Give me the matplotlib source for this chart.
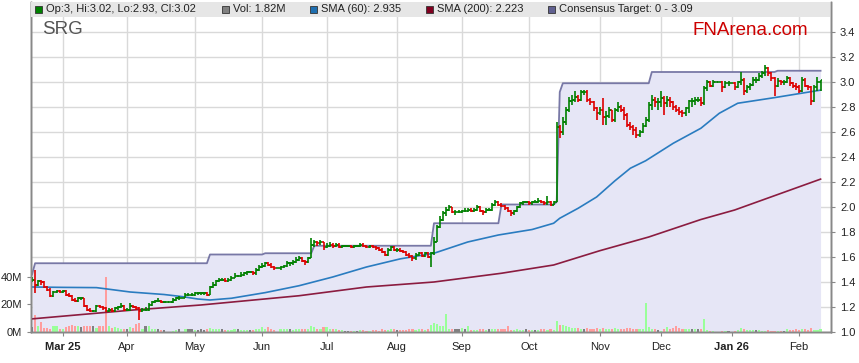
import numpy as np
import pandas as pd
import matplotlib
matplotlib.use("Agg")
import matplotlib.pyplot as plt
from matplotlib.patches import Rectangle

plt.rcParams["font.family"] = ["Liberation Sans", "DejaVu Sans"]

# daily bars, one per weekday starting 17 Feb 2025
closes = [
    1.42, 1.38, 1.41, 1.40, 1.36, 1.34, 1.29, 1.32, 1.33, 1.32,
    1.33, 1.30, 1.29, 1.26, 1.25, 1.27, 1.27, 1.21, 1.18, 1.17,
    1.17, 1.21, 1.20, 1.19, 1.17, 1.18, 1.17, 1.19, 1.20, 1.21,
    1.18, 1.18, 1.21, 1.20, 1.19, 1.17, 1.18, 1.18, 1.22, 1.24,
    1.25, 1.25, 1.24, 1.24, 1.24, 1.24, 1.26, 1.27, 1.27, 1.27,
    1.30, 1.30, 1.30, 1.31, 1.31, 1.31, 1.31, 1.30, 1.36, 1.38,
    1.41, 1.42, 1.42, 1.41, 1.42, 1.43, 1.45, 1.45, 1.46, 1.47,
    1.48, 1.48, 1.47, 1.50, 1.52, 1.53, 1.55, 1.54, 1.52, 1.51,
    1.51, 1.52, 1.53, 1.55, 1.55, 1.56, 1.58, 1.59, 1.57, 1.56,
    1.59, 1.70, 1.72, 1.71, 1.72, 1.68, 1.69, 1.70, 1.69, 1.70,
    1.68, 1.69, 1.69, 1.69, 1.68, 1.69, 1.69, 1.70, 1.69, 1.68,
    1.69, 1.68, 1.67, 1.66, 1.64, 1.62, 1.66, 1.68, 1.66, 1.66,
    1.65, 1.64, 1.62, 1.61, 1.59, 1.62, 1.63, 1.61, 1.63, 1.60,
    1.63, 1.72, 1.84, 1.90, 1.95, 1.98, 2.00, 1.96, 1.96, 1.96,
    1.97, 1.97, 1.98, 1.97, 1.98, 2.00, 1.97, 1.96, 1.98, 1.98,
    2.02, 2.04, 2.02, 2.01, 1.99, 1.97, 1.95, 1.97, 2.00, 2.03,
    2.04, 2.04, 2.03, 2.04, 2.04, 2.05, 2.04, 2.03, 2.04, 2.02,
    2.04, 2.64, 2.60, 2.68, 2.78, 2.85, 2.86, 2.88, 2.86, 2.92,
    2.92, 2.86, 2.84, 2.79, 2.75, 2.78, 2.72, 2.73, 2.78, 2.70,
    2.78, 2.80, 2.78, 2.74, 2.66, 2.64, 2.62, 2.58, 2.60, 2.65,
    2.70, 2.82, 2.86, 2.84, 2.84, 2.87, 2.83, 2.86, 2.84, 2.80,
    2.78, 2.76, 2.75, 2.79, 2.85, 2.85, 2.86, 2.86, 2.83, 2.95,
    3.00, 2.97, 3.00, 3.00, 3.00, 2.96, 2.99, 2.99, 2.99, 2.96,
    3.00, 3.02, 2.93, 2.96, 2.98, 3.02, 3.02, 3.05, 3.07, 3.11,
    3.07, 3.03, 2.97, 3.01, 3.00, 3.00, 3.03, 2.99, 2.97, 2.96,
    2.93, 3.02, 2.97, 2.96, 2.85, 2.96, 3.00, 3.02,
]
highs = [
    1.44, 1.50, 1.42, 1.42, 1.41, 1.37, 1.35, 1.33, 1.34, 1.34,
    1.34, 1.34, 1.31, 1.30, 1.27, 1.28, 1.28, 1.27, 1.22, 1.19,
    1.18, 1.22, 1.22, 1.21, 1.20, 1.19, 1.19, 1.20, 1.21, 1.23,
    1.22, 1.19, 1.23, 1.22, 1.21, 1.20, 1.19, 1.20, 1.23, 1.25,
    1.26, 1.27, 1.26, 1.25, 1.24, 1.24, 1.27, 1.28, 1.29, 1.27,
    1.31, 1.31, 1.31, 1.32, 1.32, 1.32, 1.32, 1.32, 1.37, 1.40,
    1.42, 1.43, 1.43, 1.43, 1.43, 1.45, 1.47, 1.46, 1.48, 1.48,
    1.49, 1.49, 1.49, 1.51, 1.54, 1.55, 1.56, 1.56, 1.55, 1.53,
    1.51, 1.53, 1.54, 1.57, 1.56, 1.58, 1.60, 1.61, 1.60, 1.58,
    1.60, 1.75, 1.74, 1.73, 1.74, 1.72, 1.71, 1.72, 1.71, 1.71,
    1.71, 1.70, 1.70, 1.70, 1.70, 1.70, 1.70, 1.71, 1.71, 1.70,
    1.70, 1.70, 1.69, 1.68, 1.67, 1.65, 1.67, 1.69, 1.69, 1.67,
    1.67, 1.66, 1.65, 1.63, 1.62, 1.63, 1.64, 1.64, 1.64, 1.64,
    1.64, 1.76, 1.86, 1.93, 1.97, 2.00, 2.02, 2.00, 1.98, 1.98,
    1.98, 1.99, 1.99, 1.99, 1.99, 2.02, 2.01, 1.98, 1.99, 1.99,
    2.03, 2.06, 2.05, 2.03, 2.02, 2.00, 1.98, 1.98, 2.01, 2.04,
    2.05, 2.05, 2.05, 2.05, 2.06, 2.07, 2.06, 2.05, 2.09, 2.05,
    2.05, 2.68, 2.66, 2.72, 2.80, 2.88, 2.90, 2.93, 2.90, 2.94,
    2.94, 2.94, 2.87, 2.85, 2.80, 2.80, 2.87, 2.77, 2.80, 2.78,
    2.79, 2.84, 2.82, 2.80, 2.75, 2.68, 2.66, 2.64, 2.62, 2.67,
    2.72, 2.84, 2.90, 2.88, 2.87, 2.93, 2.89, 2.89, 2.88, 2.85,
    2.82, 2.80, 2.78, 2.80, 2.86, 2.87, 2.88, 2.88, 2.88, 2.97,
    3.02, 3.01, 3.02, 3.00, 3.00, 3.01, 3.01, 3.01, 2.99, 3.00,
    3.01, 3.08, 3.03, 2.98, 2.99, 3.04, 3.04, 3.07, 3.09, 3.14,
    3.12, 3.08, 3.04, 3.03, 3.02, 3.02, 3.05, 3.04, 3.00, 2.99,
    2.98, 3.04, 3.03, 2.98, 2.97, 2.98, 3.04, 3.02,
]
lows = [
    1.40, 1.31, 1.37, 1.38, 1.35, 1.33, 1.28, 1.28, 1.31, 1.31,
    1.31, 1.29, 1.28, 1.25, 1.24, 1.24, 1.26, 1.20, 1.17, 1.16,
    1.16, 1.16, 1.19, 1.18, 1.16, 1.16, 1.16, 1.16, 1.18, 1.19,
    1.17, 1.17, 1.17, 1.19, 1.18, 1.10, 1.16, 1.17, 1.17, 1.21,
    1.23, 1.24, 1.23, 1.23, 1.24, 1.24, 1.23, 1.25, 1.26, 1.27,
    1.27, 1.29, 1.29, 1.29, 1.30, 1.30, 1.30, 1.29, 1.30, 1.35,
    1.37, 1.40, 1.41, 1.40, 1.40, 1.41, 1.43, 1.44, 1.44, 1.45,
    1.46, 1.47, 1.46, 1.46, 1.49, 1.51, 1.52, 1.53, 1.51, 1.50,
    1.51, 1.50, 1.51, 1.52, 1.53, 1.54, 1.55, 1.57, 1.56, 1.54,
    1.55, 1.59, 1.68, 1.69, 1.70, 1.66, 1.67, 1.68, 1.67, 1.68,
    1.67, 1.67, 1.68, 1.68, 1.67, 1.67, 1.68, 1.68, 1.68, 1.67,
    1.67, 1.67, 1.66, 1.65, 1.63, 1.61, 1.61, 1.65, 1.65, 1.64,
    1.64, 1.63, 1.61, 1.59, 1.57, 1.58, 1.61, 1.60, 1.60, 1.59,
    1.52, 1.62, 1.72, 1.83, 1.89, 1.93, 1.97, 1.95, 1.94, 1.95,
    1.95, 1.96, 1.96, 1.96, 1.96, 1.97, 1.96, 1.94, 1.95, 1.97,
    1.97, 2.01, 2.01, 2.00, 1.98, 1.96, 1.93, 1.94, 1.96, 1.99,
    2.02, 2.03, 2.02, 2.02, 2.03, 2.03, 2.03, 2.02, 2.02, 2.01,
    2.02, 2.04, 2.55, 2.58, 2.66, 2.76, 2.82, 2.84, 2.84, 2.85,
    2.90, 2.84, 2.82, 2.77, 2.70, 2.74, 2.66, 2.66, 2.71, 2.68,
    2.68, 2.76, 2.76, 2.70, 2.64, 2.62, 2.58, 2.55, 2.56, 2.59,
    2.64, 2.68, 2.78, 2.80, 2.78, 2.80, 2.74, 2.80, 2.80, 2.78,
    2.76, 2.74, 2.72, 2.73, 2.75, 2.80, 2.82, 2.84, 2.81, 2.82,
    2.93, 2.96, 2.96, 3.00, 3.00, 2.92, 2.95, 2.97, 2.99, 2.94,
    2.95, 2.98, 2.90, 2.91, 2.94, 2.97, 2.99, 3.01, 3.03, 3.05,
    3.05, 3.01, 2.89, 2.96, 2.98, 2.98, 2.99, 2.97, 2.95, 2.94,
    2.91, 2.92, 2.96, 2.94, 2.82, 2.84, 2.93, 2.93,
]
# volume in millions of shares
volumes = [
    3.5, 12.0, 4.3, 7.5, 2.8, 2.8, 2.0, 4.5, 4.5, 2.5,
    2.5, 3.5, 4.0, 5.0, 4.0, 4.5, 3.5, 4.5, 4.0, 4.0,
    4.5, 3.0, 4.0, 4.0, 40.0, 4.0, 3.0, 3.5, 3.0, 2.5,
    2.5, 2.5, 3.5, 3.0, 5.5, 6.7, 2.0, 4.5, 4.5, 2.0,
    2.0, 2.5, 1.5, 1.5, 0.0, 0.0, 1.0, 1.5, 2.0, 0.0,
    2.5, 2.0, 2.0, 1.5, 1.5, 2.0, 1.5, 2.0, 3.0, 2.5,
    2.0, 2.0, 2.0, 1.5, 1.5, 1.5, 2.0, 2.0, 1.5, 1.5,
    1.5, 1.5, 1.5, 2.0, 2.5, 3.5, 2.5, 3.5, 2.5, 1.5,
    0.0, 2.5, 2.0, 2.0, 2.5, 1.5, 2.0, 2.0, 2.5, 2.0,
    2.0, 4.5, 3.5, 2.5, 2.0, 3.5, 3.5, 2.5, 2.0, 2.0,
    1.5, 1.5, 1.0, 1.0, 1.0, 1.0, 1.0, 1.5, 1.5, 1.0,
    1.0, 1.5, 1.5, 1.0, 2.0, 1.5, 1.5, 2.0, 2.0, 1.5,
    1.5, 1.5, 1.5, 2.0, 2.0, 1.5, 2.0, 2.0, 1.5, 2.0,
    5.0, 6.5, 5.5, 4.0, 4.5, 13.0, 2.5, 2.0, 2.0, 2.5,
    3.0, 2.0, 4.5, 1.5, 1.5, 1.5, 2.0, 2.0, 1.5, 2.0,
    2.0, 2.0, 2.0, 2.0, 2.0, 4.0, 1.5, 1.5, 2.0, 1.5,
    1.5, 2.5, 1.5, 1.5, 1.5, 1.5, 2.0, 2.0, 1.5, 2.0,
    1.5, 8.0, 5.0, 5.0, 4.0, 3.5, 3.0, 3.0, 3.0, 2.5,
    2.5, 3.0, 2.5, 2.0, 3.0, 2.0, 3.0, 2.5, 2.5, 2.0,
    3.0, 2.5, 2.5, 2.5, 3.0, 3.0, 2.0, 2.5, 2.0, 2.0,
    21.0, 3.5, 2.0, 2.0, 1.5, 1.0, 2.5, 3.5, 2.0, 3.0,
    4.5, 3.0, 2.5, 2.5, 2.0, 2.5, 2.5, 2.5, 2.0, 9.5,
    1.5, 1.0, 1.0, 0.0, 0.0, 1.0, 1.0, 1.0, 0.0, 1.0,
    1.5, 3.0, 2.0, 1.5, 1.5, 1.5, 1.5, 1.5, 1.0, 1.0,
    1.5, 1.0, 1.0, 1.0, 1.0, 1.0, 2.5, 1.5, 1.5, 2.5,
    1.5, 2.0, 2.0, 1.5, 3.0, 1.8, 1.8, 1.82,
]

# moving averages and consensus target, read at the turning points
sma60_idx = [0, 10, 21, 27, 32, 43, 49, 54, 58, 65, 76, 87, 98, 109, 120, 131,
             142, 152, 163, 170, 172, 178, 184, 190, 195, 200, 209, 218, 224,
             230, 242, 252, 257]
sma60_val = [1.36, 1.357, 1.355, 1.336, 1.32, 1.30, 1.283, 1.264, 1.256, 1.27,
             1.315, 1.37, 1.44, 1.52, 1.585, 1.63, 1.72, 1.776, 1.82, 1.87,
             1.91, 1.99, 2.08, 2.21, 2.31, 2.37, 2.51, 2.63, 2.75, 2.83, 2.875,
             2.915, 2.935]
sma200_idx = [0, 33, 55, 87, 109, 131, 153, 170, 185, 201, 218, 229, 257]
sma200_val = [1.105, 1.176, 1.216, 1.29, 1.36, 1.40, 1.47, 1.536, 1.65, 1.76,
              1.90, 1.976, 2.223]
target_idx = [0, 1, 57, 58, 75, 76, 91, 92, 130, 131, 152, 153, 170, 171, 172,
              173, 201, 202, 242, 243, 257]
target_val = [1.46, 1.55, 1.55, 1.62, 1.62, 1.63, 1.63, 1.69, 1.69, 1.87, 1.87,
              2.02, 2.02, 2.04, 2.92, 2.99, 2.99, 3.08, 3.08, 3.09, 3.09]

month_labels = ["Mar 25", "Apr", "May", "Jun", "Jul", "Aug", "Sep", "Oct",
                "Nov", "Dec", "Jan 26", "Feb"]
price_ticks = [1.0, 1.2, 1.4, 1.6, 1.8, 2.0, 2.2, 2.4, 2.6, 2.8, 3.0, 3.2, 3.4]
vol_ticks = [0, 20, 40]

dates = pd.bdate_range("2025-02-17", periods=len(closes))
x = np.arange(len(closes))
closes = np.array(closes)
opens = np.r_[closes[0], closes[:-1]]
month_pos = [i for i in range(1, len(dates)) if dates[i].month != dates[i - 1].month]

up = closes > opens
down = closes < opens
bar_col = np.where(down, "#dd0000", "#008000")
vol_col = np.where(up, "#99ff99", np.where(down, "#ff9d9d", "#808080"))

W, H = 859, 363
fig = plt.figure(figsize=(W / 100, H / 100), dpi=100)
ax = fig.add_axes([31 / W, 31 / H, 800 / W, 330 / H])
vax = ax.twinx()
pax = ax.twinx()
for a in (ax, pax):
    a.set_xlim(-0.33, 260.4)
    a.set_ylim(1.0, 3.64)

# grid + consensus area (bottom layer, price scale on the right)
ax.yaxis.tick_right()
ax.set_yticks(price_ticks)
ax.set_yticklabels([f"{v:.1f}" for v in price_ticks])
ax.set_xticks(month_pos)
ax.set_xticklabels(month_labels)
for lab in ax.get_xticklabels():
    if lab.get_text() in ("Mar 25", "Jan 26"):
        lab.set_fontweight("bold")
ax.grid(True, color="#d9d9d9", lw=1)
ax.set_axisbelow(True)
ax.tick_params(axis="both", labelsize=8, colors="#888888", labelcolor="#222222",
               length=3)
ax.tick_params(axis="x", pad=4)
ax.fill_between(target_idx, 1.0, target_val, color="#e6e6f6", lw=0, zorder=1)
ax.plot(target_idx, target_val, color="#7878a6", lw=1.3, zorder=2)

# volume (middle layer, scale on the left)
vax.yaxis.tick_left()
vax.set_ylim(0, 238)
vax.set_yticks(vol_ticks)
vax.set_yticklabels([f"{v}M" for v in vol_ticks])
vax.tick_params(axis="y", labelsize=8, colors="#888888", labelcolor="#222222",
                length=3)
vax.bar(x, volumes, width=0.7, color=vol_col, lw=0)

# price bars and averages (top layer)
pax.set_yticks([])
pax.plot(sma200_idx, sma200_val, color="#8b1c40", lw=1.2)
pax.plot(sma60_idx, sma60_val, color="#2a7cc0", lw=1.2)
pax.vlines(x, lows, highs, colors=bar_col, lw=1.2)
pax.hlines(opens, x - 0.6, x, colors=bar_col, lw=1.2)
pax.hlines(closes, x, x + 0.6, colors=bar_col, lw=1.2)

for a in (ax, vax, pax):
    a.spines["top"].set_visible(False)
    for s in ("left", "right", "bottom"):
        a.spines[s].set_color("#888888")
        a.spines[s].set_linewidth(1)

# legend strip along the top
fig.add_artist(Rectangle((31 / W, (H - 17) / H), 799 / W, 15 / H,
                         transform=fig.transFigure, facecolor="#e6e6e6",
                         edgecolor="none", zorder=5))
legend_items = [
    (35, "#008000", "Op:3, Hi:3.02, Lo:2.93, Cl:3.02"),
    (222, "#808080", "Vol: 1.82M"),
    (310, "#1f6fb0", "SMA (60): 2.935"),
    (426, "#800020", "SMA (200): 2.223"),
    (548, "#606090", "Consensus Target: 0 - 3.09"),
]
for px, col, txt in legend_items:
    fig.add_artist(Rectangle((px / W, (H - 13) / H), 7 / W, 7 / H,
                             transform=fig.transFigure, facecolor=col,
                             edgecolor="#333333", lw=0.6, zorder=6))
    fig.text((px + 11) / W, (H - 9.5) / H, txt, fontsize=8, color="#222222",
             va="center", ha="left", zorder=7)

fig.text(42 / W, (H - 21) / H, "SRG", fontsize=13.5, color="#555555",
         va="top", ha="left")
fig.text(693 / W, (H - 22) / H, "FNArena.com", fontsize=13.5, color="#cc0000",
         va="top", ha="left")

fig.savefig("out.png", dpi=100)
